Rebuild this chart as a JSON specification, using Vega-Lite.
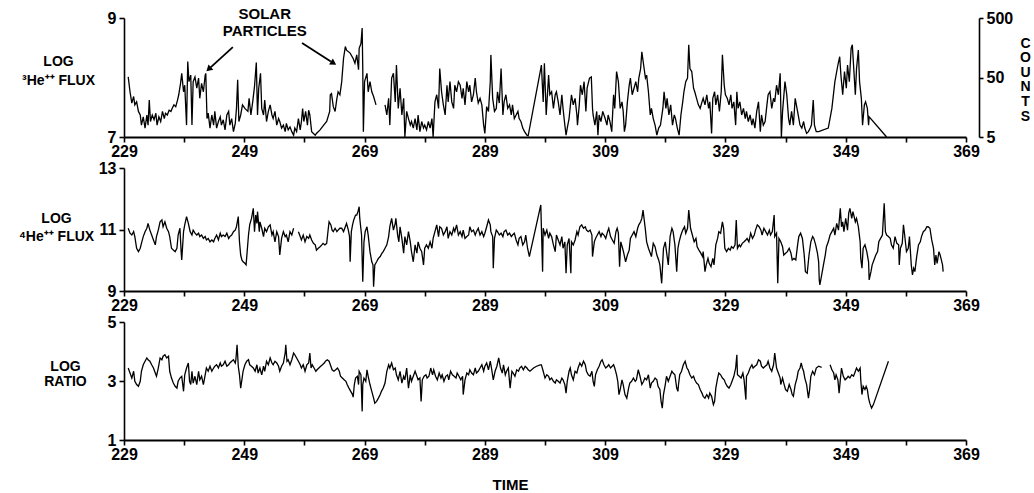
{
"$schema":"https://vega.github.io/schema/vega-lite/v6.json",
"background":"white",
"padding":{"left":18,"top":6,"right":5,"bottom":5},
"bounds":"flush",
"spacing":31,
"config":{"view":{"stroke":null},"font":"Liberation Sans",
"axis":{"domainColor":"black","tickColor":"black","labelColor":"black","titleColor":"black","labelFont":"Liberation Sans","titleFont":"Liberation Sans","labelFontWeight":"bold","titleFontWeight":"bold","labelFontSize":16,"titleFontSize":14,"grid":false,"domainWidth":1.6,"tickWidth":1.6,"labelBound":false,"labelFlush":false,"labelOverlap":false},
"axisX":{"domainWidth":2.2}},
"datasets":{
"he3":[
{"t":229.7,"v":8.01,"s":1},{"t":230.0,"v":7.76,"s":1},{"t":230.3,"v":7.57,"s":1},{"t":230.6,"v":7.68,"s":1},{"t":230.8,"v":7.54,"s":1},{"t":231.1,"v":7.59,"s":1},{"t":231.4,"v":7.43,"s":1},{"t":231.7,"v":7.37,"s":1},{"t":231.9,"v":7.20,"s":1},{"t":232.2,"v":7.34,"s":1},{"t":232.5,"v":7.15,"s":1},{"t":232.8,"v":7.37,"s":1},{"t":233.0,"v":7.20,"s":1},{"t":233.2,"v":7.62,"s":1},{"t":233.4,"v":7.26,"s":1},{"t":233.7,"v":7.37,"s":1},{"t":234.0,"v":7.29,"s":1},{"t":234.3,"v":7.40,"s":1},{"t":234.5,"v":7.20,"s":1},{"t":234.8,"v":7.34,"s":1},{"t":235.1,"v":7.26,"s":1},{"t":235.4,"v":7.43,"s":1},{"t":235.7,"v":7.31,"s":1},{"t":235.9,"v":7.40,"s":1},{"t":236.2,"v":7.37,"s":1},{"t":236.5,"v":7.45,"s":1},{"t":236.8,"v":7.43,"s":1},{"t":237.0,"v":7.48,"s":1},{"t":237.3,"v":7.54,"s":1},{"t":237.6,"v":7.51,"s":1},{"t":237.9,"v":7.62,"s":1},{"t":238.1,"v":7.71,"s":1},{"t":238.4,"v":7.90,"s":1},{"t":238.6,"v":8.07,"s":1},{"t":238.9,"v":7.76,"s":1},{"t":239.1,"v":7.87,"s":1},{"t":239.4,"v":7.20,"s":1},{"t":239.6,"v":8.27,"s":1},{"t":239.8,"v":7.93,"s":1},{"t":240.1,"v":8.04,"s":1},{"t":240.3,"v":7.20,"s":1},{"t":240.5,"v":7.93,"s":1},{"t":240.8,"v":8.01,"s":1},{"t":241.1,"v":7.82,"s":1},{"t":241.4,"v":7.99,"s":1},{"t":241.6,"v":7.65,"s":1},{"t":241.9,"v":7.90,"s":1},{"t":242.2,"v":7.76,"s":1},{"t":242.5,"v":8.04,"s":1},{"t":242.6,"v":8.07,"s":1},{"t":242.8,"v":7.31,"s":1},{"t":243.0,"v":7.40,"s":1},{"t":243.3,"v":7.15,"s":1},{"t":243.6,"v":7.37,"s":1},{"t":243.9,"v":7.20,"s":1},{"t":244.1,"v":7.43,"s":1},{"t":244.4,"v":7.15,"s":1},{"t":244.7,"v":7.26,"s":1},{"t":245.0,"v":7.34,"s":1},{"t":245.2,"v":7.20,"s":1},{"t":245.5,"v":7.29,"s":1},{"t":245.8,"v":7.12,"s":1},{"t":246.1,"v":7.37,"s":1},{"t":246.4,"v":7.43,"s":1},{"t":246.6,"v":7.20,"s":1},{"t":246.9,"v":7.31,"s":1},{"t":247.2,"v":7.09,"s":1},{"t":247.5,"v":7.23,"s":1},{"t":247.7,"v":7.48,"s":1},{"t":247.9,"v":7.96,"s":1},{"t":248.1,"v":7.26,"s":1},{"t":248.4,"v":7.37,"s":1},{"t":248.7,"v":7.54,"s":1},{"t":249.1,"v":7.48,"s":1},{"t":249.6,"v":7.43,"s":1},{"t":249.8,"v":7.65,"s":1},{"t":250.1,"v":7.37,"s":1},{"t":250.4,"v":7.59,"s":1},{"t":250.7,"v":7.85,"s":1},{"t":251.0,"v":8.25,"s":1},{"t":251.2,"v":7.37,"s":1},{"t":251.4,"v":7.82,"s":1},{"t":251.7,"v":8.07,"s":1},{"t":251.9,"v":7.48,"s":1},{"t":252.2,"v":7.37,"s":1},{"t":252.4,"v":7.62,"s":1},{"t":252.7,"v":7.26,"s":1},{"t":253.0,"v":7.43,"s":1},{"t":253.3,"v":7.54,"s":1},{"t":253.6,"v":7.37,"s":1},{"t":253.8,"v":7.31,"s":1},{"t":254.1,"v":7.43,"s":1},{"t":254.4,"v":7.20,"s":1},{"t":254.7,"v":7.31,"s":1},{"t":254.9,"v":7.26,"s":1},{"t":255.2,"v":7.15,"s":1},{"t":255.5,"v":7.20,"s":1},{"t":255.8,"v":7.09,"s":1},{"t":256.0,"v":7.23,"s":1},{"t":256.3,"v":7.12,"s":1},{"t":256.6,"v":7.17,"s":1},{"t":256.9,"v":7.09,"s":1},{"t":257.2,"v":7.03,"s":1},{"t":257.4,"v":7.15,"s":1},{"t":257.7,"v":7.09,"s":1},{"t":258.0,"v":7.31,"s":1},{"t":258.3,"v":7.12,"s":1},{"t":258.5,"v":7.26,"s":1},{"t":258.7,"v":7.48,"s":1},{"t":258.9,"v":7.26,"s":1},{"t":259.2,"v":7.43,"s":1},{"t":259.5,"v":7.20,"s":1},{"t":259.7,"v":7.45,"s":1},{"t":259.9,"v":7.37,"s":1},{"t":260.2,"v":7.09,"s":1},{"t":260.5,"v":7.06,"s":1},{"t":260.8,"v":7.03,"s":1},{"t":261.0,"v":7.06,"s":1},{"t":261.6,"v":7.12,"s":1},{"t":262.2,"v":7.20,"s":1},{"t":262.7,"v":7.26,"s":1},{"t":263.2,"v":7.43,"s":1},{"t":263.3,"v":7.71,"s":1},{"t":263.5,"v":7.73,"s":1},{"t":263.8,"v":7.51,"s":1},{"t":264.1,"v":7.43,"s":1},{"t":264.4,"v":7.65,"s":1},{"t":264.6,"v":7.76,"s":1},{"t":264.9,"v":7.71,"s":1},{"t":265.2,"v":7.93,"s":1},{"t":265.5,"v":8.32,"s":1},{"t":265.8,"v":8.52,"s":1},{"t":266.0,"v":8.46,"s":1},{"t":266.6,"v":8.41,"s":1},{"t":267.1,"v":8.32,"s":1},{"t":267.4,"v":8.24,"s":1},{"t":267.7,"v":8.38,"s":1},{"t":268.0,"v":8.13,"s":1},{"t":268.1,"v":8.49,"s":1},{"t":268.4,"v":8.57,"s":1},{"t":268.6,"v":8.83,"s":1},{"t":268.7,"v":8.15,"s":1},{"t":268.8,"v":7.09,"s":1},{"t":269.0,"v":7.93,"s":1},{"t":269.4,"v":8.07,"s":1},{"t":269.6,"v":7.76,"s":1},{"t":269.9,"v":7.93,"s":1},{"t":270.2,"v":7.76,"s":1},{"t":270.5,"v":7.68,"s":1},{"t":270.9,"v":7.54,"s":1},
{"t":272.4,"v":7.54,"s":2},{"t":272.7,"v":7.37,"s":2},{"t":273.0,"v":7.65,"s":2},{"t":273.2,"v":7.20,"s":2},{"t":273.5,"v":7.99,"s":2},{"t":273.8,"v":8.07,"s":2},{"t":274.1,"v":7.59,"s":2},{"t":274.3,"v":8.21,"s":2},{"t":274.6,"v":7.48,"s":2},{"t":274.9,"v":7.82,"s":2},{"t":275.2,"v":7.37,"s":2},{"t":275.5,"v":7.65,"s":2},{"t":275.7,"v":7.00,"s":2},{"t":276.0,"v":7.43,"s":2},{"t":276.3,"v":7.31,"s":2},{"t":276.6,"v":7.20,"s":2},{"t":276.8,"v":7.26,"s":2},{"t":277.1,"v":7.15,"s":2},{"t":277.4,"v":7.31,"s":2},{"t":277.7,"v":7.12,"s":2},{"t":277.9,"v":7.37,"s":2},{"t":278.2,"v":7.09,"s":2},{"t":278.5,"v":7.26,"s":2},{"t":278.8,"v":7.15,"s":2},{"t":279.0,"v":7.20,"s":2},{"t":279.3,"v":7.12,"s":2},{"t":279.6,"v":7.26,"s":2},{"t":279.9,"v":7.15,"s":2},{"t":280.2,"v":7.31,"s":2},{"t":280.4,"v":7.00,"s":2},{"t":280.7,"v":7.59,"s":2},{"t":281.0,"v":7.71,"s":2},{"t":281.3,"v":7.48,"s":2},{"t":281.5,"v":8.15,"s":2},{"t":281.8,"v":7.76,"s":2},{"t":282.1,"v":7.54,"s":2},{"t":282.4,"v":7.37,"s":2},{"t":282.7,"v":7.87,"s":2},{"t":282.9,"v":7.59,"s":2},{"t":283.2,"v":7.93,"s":2},{"t":283.5,"v":7.59,"s":2},{"t":283.8,"v":7.48,"s":2},{"t":284.0,"v":7.87,"s":2},{"t":284.3,"v":7.76,"s":2},{"t":284.6,"v":7.93,"s":2},{"t":284.9,"v":7.87,"s":2},{"t":285.2,"v":7.65,"s":2},{"t":285.4,"v":7.82,"s":2},{"t":285.7,"v":7.54,"s":2},{"t":286.0,"v":7.93,"s":2},{"t":286.3,"v":7.76,"s":2},{"t":286.5,"v":7.87,"s":2},{"t":286.8,"v":7.59,"s":2},{"t":287.1,"v":7.71,"s":2},{"t":287.4,"v":7.99,"s":2},{"t":287.6,"v":7.76,"s":2},{"t":287.9,"v":7.57,"s":2},{"t":288.2,"v":7.65,"s":2},{"t":288.5,"v":7.54,"s":2},{"t":288.8,"v":7.20,"s":2},{"t":289.0,"v":7.06,"s":2},{"t":289.3,"v":7.51,"s":2},{"t":289.6,"v":7.43,"s":2},{"t":289.9,"v":7.93,"s":2},{"t":290.0,"v":8.38,"s":2},{"t":290.3,"v":7.65,"s":2},{"t":290.6,"v":7.43,"s":2},{"t":290.9,"v":7.48,"s":2},{"t":291.1,"v":7.76,"s":2},{"t":291.4,"v":7.57,"s":2},{"t":291.7,"v":8.15,"s":2},{"t":292.0,"v":7.37,"s":2},{"t":292.2,"v":7.59,"s":2},{"t":292.5,"v":7.71,"s":2},{"t":292.8,"v":7.48,"s":2},{"t":293.1,"v":7.54,"s":2},{"t":293.4,"v":7.37,"s":2},{"t":293.6,"v":7.54,"s":2},{"t":293.9,"v":7.31,"s":2},{"t":294.2,"v":7.37,"s":2},{"t":294.5,"v":7.43,"s":2},{"t":294.7,"v":7.31,"s":2},{"t":295.0,"v":7.26,"s":2},{"t":295.3,"v":7.15,"s":2},{"t":295.6,"v":7.09,"s":2},{"t":296.0,"v":7.03,"s":2},{"t":296.2,"v":7.02,"s":2},{"t":298.3,"v":8.15,"s":2},{"t":298.4,"v":8.21,"s":2},{"t":298.7,"v":7.59,"s":2},{"t":298.9,"v":8.24,"s":2},{"t":299.2,"v":7.37,"s":2},{"t":299.6,"v":8.04,"s":2},{"t":299.8,"v":7.71,"s":2},{"t":300.1,"v":7.76,"s":2},{"t":300.4,"v":7.48,"s":2},{"t":300.7,"v":7.71,"s":2},{"t":300.9,"v":7.76,"s":2},{"t":301.2,"v":7.59,"s":2},{"t":301.5,"v":7.37,"s":2},{"t":301.8,"v":7.71,"s":2},{"t":302.0,"v":7.48,"s":2},{"t":302.3,"v":7.20,"s":2},{"t":302.5,"v":7.03,"s":2},{"t":302.7,"v":7.15,"s":2},{"t":303.0,"v":7.31,"s":2},{"t":303.4,"v":7.71,"s":2},{"t":303.7,"v":7.54,"s":2},{"t":304.0,"v":7.65,"s":2},{"t":304.3,"v":7.37,"s":2},{"t":304.4,"v":7.20,"s":2},{"t":304.7,"v":7.54,"s":2},{"t":304.9,"v":7.87,"s":2},{"t":305.2,"v":7.71,"s":2},{"t":305.5,"v":7.93,"s":2},{"t":305.8,"v":7.43,"s":2},{"t":306.0,"v":7.82,"s":2},{"t":306.4,"v":7.99,"s":2},{"t":306.7,"v":8.01,"s":2},{"t":306.9,"v":7.48,"s":2},{"t":307.0,"v":7.37,"s":2},{"t":307.3,"v":7.20,"s":2},{"t":307.6,"v":7.43,"s":2},{"t":307.8,"v":7.03,"s":2},{"t":308.0,"v":7.37,"s":2},{"t":308.3,"v":7.26,"s":2},{"t":308.6,"v":7.43,"s":2},{"t":309.0,"v":7.31,"s":2},{"t":309.3,"v":7.20,"s":2},{"t":309.5,"v":7.37,"s":2},{"t":309.8,"v":7.26,"s":2},{"t":310.1,"v":7.09,"s":2},{"t":310.4,"v":7.71,"s":2},{"t":310.6,"v":7.48,"s":2},{"t":310.9,"v":8.10,"s":2},{"t":311.2,"v":7.93,"s":2},{"t":311.5,"v":7.48,"s":2},{"t":311.8,"v":7.59,"s":2},{"t":312.0,"v":7.43,"s":2},{"t":312.2,"v":7.09,"s":2},{"t":312.4,"v":7.20,"s":2},{"t":312.7,"v":7.59,"s":2},{"t":313.0,"v":7.87,"s":2},{"t":313.2,"v":7.99,"s":2},{"t":313.5,"v":7.71,"s":2},{"t":313.8,"v":7.82,"s":2},{"t":314.1,"v":7.93,"s":2},{"t":314.4,"v":7.76,"s":2},{"t":314.6,"v":7.99,"s":2},{"t":314.9,"v":8.15,"s":2},{"t":315.1,"v":8.43,"s":2},{"t":315.4,"v":8.21,"s":2},{"t":315.7,"v":7.99,"s":2},{"t":315.9,"v":8.04,"s":2},{"t":316.2,"v":7.76,"s":2},{"t":316.5,"v":7.37,"s":2},{"t":316.7,"v":7.48,"s":2},{"t":317.0,"v":7.31,"s":2},{"t":317.3,"v":7.20,"s":2},{"t":317.6,"v":7.03,"s":2},{"t":317.9,"v":7.15,"s":2},{"t":318.2,"v":7.20,"s":2},{"t":318.6,"v":7.48,"s":2},{"t":318.8,"v":7.76,"s":2},{"t":319.1,"v":7.48,"s":2},{"t":319.3,"v":7.65,"s":2},{"t":319.6,"v":7.37,"s":2},{"t":319.9,"v":7.54,"s":2},{"t":320.2,"v":7.20,"s":2},{"t":320.5,"v":7.37,"s":2},{"t":320.7,"v":7.31,"s":2},{"t":321.0,"v":7.15,"s":2},{"t":321.3,"v":7.03,"s":2},{"t":321.6,"v":7.37,"s":2},{"t":321.9,"v":7.59,"s":2},{"t":322.1,"v":7.76,"s":2},{"t":322.4,"v":7.93,"s":2},{"t":322.7,"v":7.99,"s":2},{"t":322.9,"v":8.55,"s":2},{"t":323.1,"v":8.15,"s":2},{"t":323.4,"v":8.10,"s":2},{"t":323.7,"v":7.82,"s":2},{"t":323.9,"v":7.76,"s":2},{"t":324.2,"v":7.65,"s":2},{"t":324.5,"v":7.54,"s":2},{"t":324.8,"v":7.48,"s":2},{"t":325.1,"v":7.59,"s":2},{"t":325.3,"v":7.65,"s":2},{"t":325.6,"v":7.54,"s":2},{"t":325.9,"v":7.71,"s":2},{"t":326.2,"v":7.48,"s":2},{"t":326.4,"v":7.59,"s":2},{"t":326.7,"v":7.06,"s":2},{"t":326.9,"v":7.65,"s":2},{"t":327.2,"v":7.76,"s":2},{"t":327.4,"v":7.54,"s":2},{"t":327.7,"v":7.71,"s":2},{"t":328.0,"v":7.43,"s":2},{"t":328.3,"v":7.76,"s":2},{"t":328.5,"v":8.38,"s":2},{"t":328.8,"v":7.87,"s":2},{"t":329.0,"v":7.71,"s":2},{"t":329.3,"v":7.65,"s":2},{"t":329.6,"v":7.54,"s":2},{"t":329.9,"v":7.71,"s":2},{"t":330.1,"v":7.48,"s":2},{"t":330.4,"v":7.59,"s":2},{"t":330.7,"v":7.20,"s":2},{"t":330.9,"v":7.76,"s":2},{"t":331.1,"v":7.48,"s":2},{"t":331.4,"v":7.59,"s":2},{"t":331.7,"v":7.37,"s":2},{"t":332.0,"v":7.48,"s":2},{"t":332.3,"v":7.31,"s":2},{"t":332.5,"v":7.43,"s":2},{"t":332.8,"v":7.26,"s":2},{"t":333.1,"v":7.37,"s":2},{"t":333.4,"v":7.20,"s":2},{"t":333.6,"v":7.31,"s":2},{"t":333.9,"v":7.15,"s":2},{"t":334.2,"v":7.43,"s":2},{"t":334.5,"v":7.59,"s":2},{"t":334.8,"v":7.09,"s":2},{"t":335.0,"v":7.37,"s":2},{"t":335.3,"v":7.20,"s":2},{"t":335.6,"v":7.26,"s":2},{"t":335.9,"v":7.54,"s":2},{"t":336.1,"v":7.71,"s":2},{"t":336.4,"v":7.76,"s":2},{"t":336.7,"v":7.48,"s":2},{"t":337.0,"v":7.65,"s":2},{"t":337.2,"v":7.59,"s":2},{"t":337.5,"v":7.87,"s":2},{"t":337.8,"v":7.71,"s":2},{"t":338.1,"v":8.07,"s":2},{"t":338.3,"v":7.00,"s":2},{"t":338.5,"v":7.43,"s":2},{"t":338.9,"v":7.93,"s":2},{"t":339.2,"v":7.71,"s":2},{"t":339.5,"v":7.31,"s":2},{"t":339.7,"v":7.20,"s":2},{"t":340.0,"v":7.43,"s":2},{"t":340.3,"v":7.20,"s":2},{"t":340.6,"v":7.65,"s":2},{"t":340.9,"v":7.48,"s":2},{"t":341.1,"v":7.37,"s":2},{"t":341.4,"v":7.20,"s":2},{"t":341.7,"v":7.15,"s":2},{"t":342.0,"v":7.26,"s":2},{"t":342.2,"v":7.15,"s":2},{"t":342.5,"v":7.06,"s":2},{"t":342.8,"v":7.09,"s":2},{"t":343.1,"v":7.15,"s":2},{"t":343.3,"v":7.20,"s":2},{"t":343.6,"v":7.62,"s":2},{"t":343.8,"v":7.20,"s":2},{"t":344.1,"v":7.09,"s":2},{"t":344.5,"v":7.09,"s":2},{"t":346.1,"v":7.15,"s":2},{"t":346.7,"v":7.48,"s":2},{"t":347.2,"v":7.93,"s":2},{"t":347.7,"v":8.21,"s":2},{"t":348.0,"v":8.35,"s":2},{"t":348.2,"v":8.04,"s":2},{"t":348.5,"v":7.71,"s":2},{"t":348.8,"v":8.10,"s":2},{"t":349.1,"v":7.82,"s":2},{"t":349.3,"v":8.21,"s":2},{"t":349.6,"v":7.93,"s":2},{"t":349.9,"v":8.49,"s":2},{"t":350.1,"v":8.55,"s":2},{"t":350.3,"v":8.21,"s":2},{"t":350.6,"v":7.71,"s":2},{"t":350.8,"v":8.15,"s":2},{"t":351.1,"v":8.46,"s":2},{"t":351.3,"v":7.93,"s":2},{"t":351.6,"v":7.65,"s":2},{"t":351.8,"v":7.20,"s":2},{"t":352.1,"v":7.54,"s":2},{"t":352.3,"v":7.59,"s":2},{"t":352.6,"v":7.48,"s":2},{"t":352.8,"v":7.20,"s":2},{"t":352.9,"v":7.34,"s":2},{"t":355.8,"v":7.00,"s":2}
],
"he4":[
{"t":229.7,"v":11.04,"s":1},{"t":230.0,"v":10.88,"s":1},{"t":230.3,"v":10.82,"s":1},{"t":230.6,"v":10.93,"s":1},{"t":230.8,"v":10.77,"s":1},{"t":231.1,"v":10.39,"s":1},{"t":231.4,"v":10.28,"s":1},{"t":231.7,"v":10.39,"s":1},{"t":231.9,"v":10.55,"s":1},{"t":232.2,"v":10.77,"s":1},{"t":232.5,"v":10.93,"s":1},{"t":232.8,"v":11.04,"s":1},{"t":233.0,"v":11.20,"s":1},{"t":233.3,"v":10.98,"s":1},{"t":233.6,"v":10.82,"s":1},{"t":233.9,"v":10.66,"s":1},{"t":234.2,"v":10.50,"s":1},{"t":234.4,"v":10.77,"s":1},{"t":234.7,"v":10.98,"s":1},{"t":235.0,"v":11.25,"s":1},{"t":235.3,"v":11.31,"s":1},{"t":235.5,"v":11.09,"s":1},{"t":235.8,"v":11.25,"s":1},{"t":236.1,"v":11.04,"s":1},{"t":236.4,"v":10.93,"s":1},{"t":236.6,"v":10.77,"s":1},{"t":236.9,"v":10.39,"s":1},{"t":237.2,"v":10.33,"s":1},{"t":237.5,"v":10.28,"s":1},{"t":237.8,"v":10.39,"s":1},{"t":238.0,"v":10.82,"s":1},{"t":238.3,"v":11.04,"s":1},{"t":238.5,"v":10.28,"s":1},{"t":238.6,"v":10.01,"s":1},{"t":238.9,"v":10.93,"s":1},{"t":239.1,"v":11.15,"s":1},{"t":239.4,"v":11.42,"s":1},{"t":239.7,"v":11.20,"s":1},{"t":240.0,"v":10.93,"s":1},{"t":240.3,"v":10.82,"s":1},{"t":240.5,"v":10.98,"s":1},{"t":240.8,"v":10.88,"s":1},{"t":241.1,"v":10.82,"s":1},{"t":241.4,"v":10.88,"s":1},{"t":241.6,"v":10.77,"s":1},{"t":241.9,"v":10.82,"s":1},{"t":242.2,"v":10.71,"s":1},{"t":242.5,"v":10.77,"s":1},{"t":242.7,"v":10.66,"s":1},{"t":243.0,"v":10.71,"s":1},{"t":243.3,"v":10.60,"s":1},{"t":243.6,"v":10.66,"s":1},{"t":243.9,"v":10.60,"s":1},{"t":244.1,"v":10.71,"s":1},{"t":244.4,"v":10.82,"s":1},{"t":244.7,"v":10.66,"s":1},{"t":245.0,"v":10.88,"s":1},{"t":245.2,"v":10.77,"s":1},{"t":245.5,"v":10.82,"s":1},{"t":245.8,"v":10.77,"s":1},{"t":246.1,"v":10.88,"s":1},{"t":246.4,"v":10.71,"s":1},{"t":246.6,"v":10.77,"s":1},{"t":246.9,"v":10.82,"s":1},{"t":247.2,"v":10.93,"s":1},{"t":247.5,"v":10.98,"s":1},{"t":247.7,"v":11.09,"s":1},{"t":248.0,"v":11.42,"s":1},{"t":248.2,"v":10.60,"s":1},{"t":248.4,"v":10.17,"s":1},{"t":248.6,"v":10.01,"s":1},{"t":248.8,"v":9.95,"s":1},{"t":249.1,"v":9.90,"s":1},{"t":249.3,"v":9.85,"s":1},{"t":249.7,"v":10.82,"s":1},{"t":249.9,"v":11.15,"s":1},{"t":250.2,"v":11.36,"s":1},{"t":250.5,"v":11.69,"s":1},{"t":250.7,"v":10.93,"s":1},{"t":250.9,"v":11.47,"s":1},{"t":251.1,"v":11.20,"s":1},{"t":251.2,"v":11.58,"s":1},{"t":251.5,"v":10.93,"s":1},{"t":251.6,"v":11.25,"s":1},{"t":251.9,"v":11.04,"s":1},{"t":252.2,"v":10.77,"s":1},{"t":252.4,"v":11.04,"s":1},{"t":252.7,"v":10.93,"s":1},{"t":253.0,"v":11.09,"s":1},{"t":253.3,"v":11.15,"s":1},{"t":253.6,"v":10.82,"s":1},{"t":253.8,"v":10.93,"s":1},{"t":254.1,"v":10.60,"s":1},{"t":254.4,"v":10.93,"s":1},{"t":254.7,"v":10.77,"s":1},{"t":254.9,"v":10.17,"s":1},{"t":255.2,"v":10.71,"s":1},{"t":255.5,"v":10.93,"s":1},{"t":255.8,"v":10.77,"s":1},{"t":256.0,"v":10.82,"s":1},{"t":256.3,"v":10.60,"s":1},{"t":256.6,"v":10.93,"s":1},{"t":256.9,"v":10.82,"s":1},{"t":257.2,"v":11.04,"s":1},
{"t":258.0,"v":10.93,"s":2},{"t":258.3,"v":10.77,"s":2},{"t":258.5,"v":10.66,"s":2},{"t":258.8,"v":10.82,"s":2},{"t":259.1,"v":10.60,"s":2},{"t":259.4,"v":10.77,"s":2},{"t":259.7,"v":10.71,"s":2},{"t":259.9,"v":10.82,"s":2},{"t":260.2,"v":10.66,"s":2},{"t":260.5,"v":10.55,"s":2},{"t":260.8,"v":10.50,"s":2},{"t":261.0,"v":10.33,"s":2},{"t":261.3,"v":10.39,"s":2},{"t":261.6,"v":10.44,"s":2},{"t":261.9,"v":10.50,"s":2},{"t":262.1,"v":10.55,"s":2},{"t":262.4,"v":10.50,"s":2},{"t":262.7,"v":10.55,"s":2},{"t":263.0,"v":11.09,"s":2},{"t":263.1,"v":11.25,"s":2},{"t":263.4,"v":11.15,"s":2},{"t":263.6,"v":10.98,"s":2},{"t":263.8,"v":10.93,"s":2},{"t":264.1,"v":11.04,"s":2},{"t":264.4,"v":10.93,"s":2},{"t":264.6,"v":10.98,"s":2},{"t":264.9,"v":11.04,"s":2},{"t":265.2,"v":11.04,"s":2},{"t":265.5,"v":10.93,"s":2},{"t":265.8,"v":11.09,"s":2},{"t":266.0,"v":11.20,"s":2},{"t":266.3,"v":10.98,"s":2},{"t":266.5,"v":10.77,"s":2},{"t":266.6,"v":9.95,"s":2},{"t":266.8,"v":10.93,"s":2},{"t":267.0,"v":11.15,"s":2},{"t":267.2,"v":11.31,"s":2},{"t":267.5,"v":11.47,"s":2},{"t":267.7,"v":11.47,"s":2},{"t":267.9,"v":11.58,"s":2},{"t":268.1,"v":11.74,"s":2},{"t":268.2,"v":11.36,"s":2},{"t":268.5,"v":10.82,"s":2},{"t":268.6,"v":10.06,"s":2},{"t":268.7,"v":9.30,"s":2},{"t":268.9,"v":10.60,"s":2},{"t":269.1,"v":10.93,"s":2},{"t":269.4,"v":11.09,"s":2},{"t":269.6,"v":10.82,"s":2},{"t":269.9,"v":10.28,"s":2},{"t":270.2,"v":9.95,"s":2},{"t":270.4,"v":9.85,"s":2},{"t":270.5,"v":9.14,"s":2},{"t":270.7,"v":9.85,"s":2},{"t":271.0,"v":9.95,"s":2},{"t":271.3,"v":10.06,"s":2},{"t":271.6,"v":10.12,"s":2},{"t":271.9,"v":10.23,"s":2},{"t":272.1,"v":10.28,"s":2},{"t":272.4,"v":10.39,"s":2},{"t":272.7,"v":10.50,"s":2},{"t":273.0,"v":10.77,"s":2},{"t":273.2,"v":11.09,"s":2},{"t":273.5,"v":11.36,"s":2},{"t":273.8,"v":10.98,"s":2},{"t":274.1,"v":11.20,"s":2},{"t":274.2,"v":11.36,"s":2},{"t":274.5,"v":10.82,"s":2},{"t":274.7,"v":10.60,"s":2},{"t":274.9,"v":11.09,"s":2},{"t":275.2,"v":10.71,"s":2},{"t":275.5,"v":10.23,"s":2},{"t":275.7,"v":10.77,"s":2},{"t":276.0,"v":10.50,"s":2},{"t":276.3,"v":10.93,"s":2},{"t":276.6,"v":10.60,"s":2},{"t":276.8,"v":10.28,"s":2},{"t":277.1,"v":9.95,"s":2},{"t":277.4,"v":10.50,"s":2},{"t":277.7,"v":10.23,"s":2},{"t":277.9,"v":10.60,"s":2},{"t":278.2,"v":10.39,"s":2},{"t":278.5,"v":10.28,"s":2},{"t":278.8,"v":9.85,"s":2},{"t":279.0,"v":10.39,"s":2},{"t":279.3,"v":10.50,"s":2},{"t":279.6,"v":10.39,"s":2},{"t":279.9,"v":10.60,"s":2},{"t":280.2,"v":10.39,"s":2},{"t":280.4,"v":10.71,"s":2},{"t":280.7,"v":10.93,"s":2},{"t":281.0,"v":11.15,"s":2},{"t":281.3,"v":10.77,"s":2},{"t":281.5,"v":11.09,"s":2},{"t":281.8,"v":11.04,"s":2},{"t":282.1,"v":10.82,"s":2},{"t":282.4,"v":10.93,"s":2},{"t":282.7,"v":11.09,"s":2},{"t":282.9,"v":10.71,"s":2},{"t":283.2,"v":10.93,"s":2},{"t":283.5,"v":10.82,"s":2},{"t":283.8,"v":11.04,"s":2},{"t":284.0,"v":10.93,"s":2},{"t":284.3,"v":11.15,"s":2},{"t":284.6,"v":10.82,"s":2},{"t":284.9,"v":10.93,"s":2},{"t":285.2,"v":10.77,"s":2},{"t":285.4,"v":10.98,"s":2},{"t":285.7,"v":10.71,"s":2},{"t":286.0,"v":10.77,"s":2},{"t":286.3,"v":10.82,"s":2},{"t":286.5,"v":11.09,"s":2},{"t":286.8,"v":10.93,"s":2},{"t":287.1,"v":10.98,"s":2},{"t":287.4,"v":10.82,"s":2},{"t":287.6,"v":10.93,"s":2},{"t":287.9,"v":11.04,"s":2},{"t":288.2,"v":10.82,"s":2},{"t":288.5,"v":10.93,"s":2},{"t":288.8,"v":10.77,"s":2},{"t":289.0,"v":10.88,"s":2},{"t":289.3,"v":11.09,"s":2},{"t":289.6,"v":11.31,"s":2},{"t":289.9,"v":11.15,"s":2},{"t":290.0,"v":10.93,"s":2},{"t":290.3,"v":10.77,"s":2},{"t":290.4,"v":9.74,"s":2},{"t":290.6,"v":10.71,"s":2},{"t":290.9,"v":10.98,"s":2},{"t":291.1,"v":10.93,"s":2},{"t":291.4,"v":10.82,"s":2},{"t":291.7,"v":10.88,"s":2},{"t":292.0,"v":10.77,"s":2},{"t":292.2,"v":10.93,"s":2},{"t":292.5,"v":10.98,"s":2},{"t":292.8,"v":10.82,"s":2},{"t":293.1,"v":10.88,"s":2},{"t":293.4,"v":10.77,"s":2},{"t":293.6,"v":10.82,"s":2},{"t":293.9,"v":10.88,"s":2},{"t":294.2,"v":10.66,"s":2},{"t":294.5,"v":10.50,"s":2},{"t":294.7,"v":10.71,"s":2},{"t":295.0,"v":10.77,"s":2},{"t":295.3,"v":10.50,"s":2},{"t":295.6,"v":10.60,"s":2},{"t":295.8,"v":10.82,"s":2},{"t":296.1,"v":10.39,"s":2},{"t":296.4,"v":10.12,"s":2},{"t":298.3,"v":11.80,"s":2},{"t":298.6,"v":9.63,"s":2},{"t":298.7,"v":11.04,"s":2},{"t":299.0,"v":10.82,"s":2},{"t":299.3,"v":10.98,"s":2},{"t":299.6,"v":10.71,"s":2},{"t":299.8,"v":10.88,"s":2},{"t":300.1,"v":10.77,"s":2},{"t":300.4,"v":10.50,"s":2},{"t":300.7,"v":10.28,"s":2},{"t":300.9,"v":10.82,"s":2},{"t":301.2,"v":10.66,"s":2},{"t":301.5,"v":10.50,"s":2},{"t":301.8,"v":10.77,"s":2},{"t":302.0,"v":10.39,"s":2},{"t":302.3,"v":10.60,"s":2},{"t":302.5,"v":9.58,"s":2},{"t":302.7,"v":10.50,"s":2},{"t":303.0,"v":10.71,"s":2},{"t":303.3,"v":9.58,"s":2},{"t":303.4,"v":10.60,"s":2},{"t":303.7,"v":10.50,"s":2},{"t":304.0,"v":10.66,"s":2},{"t":304.3,"v":10.93,"s":2},{"t":304.5,"v":10.82,"s":2},{"t":304.8,"v":11.09,"s":2},{"t":305.1,"v":11.15,"s":2},{"t":305.4,"v":11.04,"s":2},{"t":305.7,"v":11.09,"s":2},{"t":305.9,"v":10.98,"s":2},{"t":306.2,"v":10.93,"s":2},{"t":306.5,"v":10.98,"s":2},{"t":306.8,"v":10.82,"s":2},{"t":306.9,"v":10.12,"s":2},{"t":307.2,"v":10.60,"s":2},{"t":307.4,"v":10.71,"s":2},{"t":307.7,"v":10.82,"s":2},{"t":308.0,"v":10.93,"s":2},{"t":308.3,"v":10.77,"s":2},{"t":308.5,"v":10.88,"s":2},{"t":308.8,"v":10.82,"s":2},{"t":309.1,"v":10.71,"s":2},{"t":309.4,"v":10.93,"s":2},{"t":309.6,"v":11.04,"s":2},{"t":309.9,"v":10.77,"s":2},{"t":310.2,"v":10.66,"s":2},{"t":310.5,"v":10.55,"s":2},{"t":310.8,"v":10.93,"s":2},{"t":311.0,"v":11.04,"s":2},{"t":311.2,"v":10.88,"s":2},{"t":311.4,"v":9.79,"s":2},{"t":311.6,"v":10.60,"s":2},{"t":311.9,"v":10.39,"s":2},{"t":312.1,"v":10.23,"s":2},{"t":312.4,"v":9.95,"s":2},{"t":312.7,"v":10.17,"s":2},{"t":313.0,"v":10.33,"s":2},{"t":313.2,"v":10.71,"s":2},{"t":313.5,"v":10.82,"s":2},{"t":313.8,"v":10.93,"s":2},{"t":314.1,"v":10.77,"s":2},{"t":314.4,"v":11.04,"s":2},{"t":314.6,"v":11.15,"s":2},{"t":314.9,"v":11.25,"s":2},{"t":315.1,"v":11.36,"s":2},{"t":315.3,"v":11.63,"s":2},{"t":315.5,"v":11.31,"s":2},{"t":315.7,"v":10.98,"s":2},{"t":315.9,"v":10.60,"s":2},{"t":316.2,"v":10.39,"s":2},{"t":316.5,"v":10.23,"s":2},{"t":316.7,"v":10.12,"s":2},{"t":317.0,"v":10.55,"s":2},{"t":317.3,"v":10.44,"s":2},{"t":317.6,"v":10.17,"s":2},{"t":317.9,"v":10.01,"s":2},{"t":318.1,"v":9.85,"s":2},{"t":318.4,"v":9.25,"s":2},{"t":318.7,"v":10.39,"s":2},{"t":319.0,"v":10.60,"s":2},{"t":319.2,"v":10.28,"s":2},{"t":319.5,"v":9.85,"s":2},{"t":319.8,"v":10.77,"s":2},{"t":320.1,"v":11.04,"s":2},{"t":320.3,"v":10.93,"s":2},{"t":320.6,"v":10.50,"s":2},{"t":320.9,"v":9.63,"s":2},{"t":321.1,"v":10.39,"s":2},{"t":321.3,"v":10.60,"s":2},{"t":321.6,"v":10.82,"s":2},{"t":321.9,"v":10.98,"s":2},{"t":322.2,"v":11.09,"s":2},{"t":322.4,"v":10.88,"s":2},{"t":322.7,"v":11.04,"s":2},{"t":322.9,"v":11.63,"s":2},{"t":323.2,"v":11.04,"s":2},{"t":323.5,"v":10.82,"s":2},{"t":323.8,"v":10.60,"s":2},{"t":324.1,"v":10.71,"s":2},{"t":324.3,"v":10.44,"s":2},{"t":324.6,"v":10.33,"s":2},{"t":324.9,"v":10.23,"s":2},{"t":325.2,"v":10.12,"s":2},{"t":325.3,"v":10.28,"s":2},{"t":325.6,"v":9.63,"s":2},{"t":325.8,"v":9.85,"s":2},{"t":326.1,"v":10.06,"s":2},{"t":326.3,"v":9.90,"s":2},{"t":326.6,"v":9.79,"s":2},{"t":326.9,"v":10.06,"s":2},{"t":327.1,"v":9.85,"s":2},{"t":327.4,"v":10.50,"s":2},{"t":327.7,"v":10.71,"s":2},{"t":327.9,"v":10.93,"s":2},{"t":328.2,"v":10.88,"s":2},{"t":328.5,"v":11.25,"s":2},{"t":328.7,"v":11.04,"s":2},{"t":328.9,"v":10.39,"s":2},{"t":329.2,"v":10.28,"s":2},{"t":329.5,"v":10.39,"s":2},{"t":329.8,"v":10.33,"s":2},{"t":330.0,"v":10.44,"s":2},{"t":330.3,"v":10.39,"s":2},{"t":330.6,"v":10.50,"s":2},{"t":330.8,"v":11.31,"s":2},{"t":331.0,"v":10.39,"s":2},{"t":331.3,"v":10.50,"s":2},{"t":331.5,"v":10.44,"s":2},{"t":331.8,"v":10.55,"s":2},{"t":332.1,"v":10.60,"s":2},{"t":332.4,"v":10.66,"s":2},{"t":332.6,"v":10.71,"s":2},{"t":332.9,"v":10.60,"s":2},{"t":333.2,"v":10.88,"s":2},{"t":333.5,"v":10.71,"s":2},{"t":333.8,"v":10.82,"s":2},{"t":334.0,"v":10.98,"s":2},{"t":334.3,"v":11.15,"s":2},{"t":334.6,"v":11.09,"s":2},{"t":334.9,"v":10.98,"s":2},{"t":335.1,"v":10.82,"s":2},{"t":335.4,"v":11.04,"s":2},{"t":335.7,"v":10.93,"s":2},{"t":336.0,"v":10.82,"s":2},{"t":336.3,"v":10.98,"s":2},{"t":336.5,"v":10.82,"s":2},{"t":336.8,"v":10.93,"s":2},{"t":337.1,"v":11.47,"s":2},{"t":337.2,"v":10.77,"s":2},{"t":337.5,"v":10.88,"s":2},{"t":337.7,"v":9.25,"s":2},{"t":337.9,"v":10.71,"s":2},{"t":338.2,"v":10.60,"s":2},{"t":338.5,"v":10.44,"s":2},{"t":338.7,"v":10.17,"s":2},{"t":339.0,"v":10.23,"s":2},{"t":339.3,"v":10.28,"s":2},{"t":339.6,"v":10.39,"s":2},{"t":339.9,"v":10.23,"s":2},{"t":340.1,"v":10.01,"s":2},{"t":340.4,"v":10.06,"s":2},{"t":340.7,"v":10.01,"s":2},{"t":341.0,"v":10.50,"s":2},{"t":341.2,"v":10.77,"s":2},{"t":341.5,"v":10.88,"s":2},{"t":341.8,"v":10.71,"s":2},{"t":342.1,"v":10.17,"s":2},{"t":342.3,"v":9.63,"s":2},{"t":342.6,"v":9.58,"s":2},{"t":342.9,"v":10.17,"s":2},{"t":343.2,"v":10.60,"s":2},{"t":343.5,"v":10.77,"s":2},{"t":343.7,"v":10.71,"s":2},{"t":344.0,"v":10.50,"s":2},{"t":344.3,"v":10.23,"s":2},{"t":344.5,"v":9.95,"s":2},{"t":344.6,"v":9.36,"s":2},{"t":344.7,"v":9.20,"s":2},{"t":345.0,"v":9.52,"s":2},{"t":345.3,"v":9.85,"s":2},{"t":345.6,"v":10.17,"s":2},{"t":345.8,"v":10.44,"s":2},{"t":346.1,"v":10.60,"s":2},{"t":346.4,"v":10.82,"s":2},{"t":346.7,"v":10.93,"s":2},{"t":347.0,"v":11.04,"s":2},{"t":347.2,"v":10.82,"s":2},{"t":347.5,"v":11.20,"s":2},{"t":347.8,"v":10.98,"s":2},{"t":348.1,"v":11.69,"s":2},{"t":348.3,"v":11.09,"s":2},{"t":348.5,"v":11.25,"s":2},{"t":348.7,"v":10.93,"s":2},{"t":349.0,"v":11.36,"s":2},{"t":349.3,"v":10.98,"s":2},{"t":349.5,"v":11.53,"s":2},{"t":349.7,"v":11.69,"s":2},{"t":350.0,"v":11.36,"s":2},{"t":350.2,"v":11.58,"s":2},{"t":350.4,"v":11.42,"s":2},{"t":350.6,"v":11.25,"s":2},{"t":350.8,"v":11.36,"s":2},{"t":351.1,"v":11.09,"s":2},{"t":351.4,"v":10.60,"s":2},{"t":351.5,"v":10.06,"s":2},{"t":351.7,"v":9.74,"s":2},{"t":351.9,"v":10.39,"s":2},{"t":352.2,"v":10.50,"s":2},{"t":352.5,"v":10.28,"s":2},{"t":352.8,"v":9.95,"s":2},{"t":352.9,"v":9.36,"s":2},{"t":353.2,"v":9.63,"s":2},{"t":353.4,"v":9.85,"s":2},{"t":353.7,"v":10.01,"s":2},{"t":354.0,"v":10.17,"s":2},{"t":354.3,"v":10.28,"s":2},{"t":354.5,"v":10.60,"s":2},{"t":354.8,"v":10.71,"s":2},{"t":355.1,"v":10.82,"s":2},{"t":355.4,"v":11.85,"s":2},{"t":355.6,"v":10.93,"s":2},{"t":355.8,"v":10.82,"s":2},{"t":356.1,"v":10.77,"s":2},{"t":356.4,"v":10.71,"s":2},{"t":356.6,"v":10.50,"s":2},{"t":356.9,"v":10.39,"s":2},{"t":357.2,"v":10.77,"s":2},{"t":357.5,"v":10.55,"s":2},{"t":357.8,"v":10.50,"s":2},{"t":357.9,"v":9.85,"s":2},{"t":358.1,"v":10.39,"s":2},{"t":358.4,"v":10.55,"s":2},{"t":358.6,"v":11.15,"s":2},{"t":358.8,"v":10.82,"s":2},{"t":359.1,"v":10.28,"s":2},{"t":359.4,"v":10.39,"s":2},{"t":359.6,"v":10.77,"s":2},{"t":359.9,"v":9.85,"s":2},{"t":360.1,"v":9.52,"s":2},{"t":360.3,"v":9.74,"s":2},{"t":360.5,"v":9.63,"s":2},{"t":360.8,"v":10.12,"s":2},{"t":361.1,"v":10.50,"s":2},{"t":361.4,"v":10.60,"s":2},{"t":361.6,"v":10.77,"s":2},{"t":361.9,"v":10.93,"s":2},{"t":362.2,"v":10.98,"s":2},{"t":362.5,"v":11.09,"s":2},{"t":362.7,"v":11.09,"s":2},{"t":363.0,"v":11.04,"s":2},{"t":363.3,"v":10.66,"s":2},{"t":363.6,"v":10.39,"s":2},{"t":363.8,"v":9.85,"s":2},{"t":364.0,"v":10.17,"s":2},{"t":364.2,"v":9.90,"s":2},{"t":364.5,"v":10.28,"s":2},{"t":364.7,"v":10.17,"s":2},{"t":364.9,"v":10.01,"s":2},{"t":365.1,"v":9.85,"s":2},{"t":365.2,"v":9.63,"s":2}
],
"ratio":[
{"t":229.7,"v":3.44,"s":1},{"t":230.0,"v":3.27,"s":1},{"t":230.3,"v":3.10,"s":1},{"t":230.6,"v":3.33,"s":1},{"t":230.8,"v":2.99,"s":1},{"t":231.1,"v":2.88,"s":1},{"t":231.4,"v":2.82,"s":1},{"t":231.7,"v":2.99,"s":1},{"t":231.9,"v":3.33,"s":1},{"t":232.2,"v":3.55,"s":1},{"t":232.5,"v":3.67,"s":1},{"t":232.8,"v":3.78,"s":1},{"t":233.0,"v":3.72,"s":1},{"t":233.3,"v":3.67,"s":1},{"t":233.6,"v":3.55,"s":1},{"t":233.9,"v":3.44,"s":1},{"t":234.2,"v":3.27,"s":1},{"t":234.4,"v":3.16,"s":1},{"t":234.7,"v":3.44,"s":1},{"t":235.0,"v":3.78,"s":1},{"t":235.3,"v":3.72,"s":1},{"t":235.5,"v":3.84,"s":1},{"t":235.8,"v":3.89,"s":1},{"t":236.1,"v":3.78,"s":1},{"t":236.4,"v":3.84,"s":1},{"t":236.6,"v":3.33,"s":1},{"t":236.9,"v":3.10,"s":1},{"t":237.2,"v":2.93,"s":1},{"t":237.5,"v":2.82,"s":1},{"t":237.8,"v":2.76,"s":1},{"t":238.0,"v":2.99,"s":1},{"t":238.3,"v":3.10,"s":1},{"t":238.6,"v":3.16,"s":1},{"t":238.9,"v":2.65,"s":1},{"t":239.1,"v":3.21,"s":1},{"t":239.4,"v":3.44,"s":1},{"t":239.7,"v":3.61,"s":1},{"t":239.9,"v":2.99,"s":1},{"t":240.1,"v":2.88,"s":1},{"t":240.3,"v":3.33,"s":1},{"t":240.5,"v":2.93,"s":1},{"t":240.8,"v":3.16,"s":1},{"t":241.1,"v":2.88,"s":1},{"t":241.4,"v":3.33,"s":1},{"t":241.6,"v":3.04,"s":1},{"t":241.9,"v":3.16,"s":1},{"t":242.2,"v":2.88,"s":1},{"t":242.5,"v":3.21,"s":1},{"t":242.7,"v":3.44,"s":1},{"t":243.0,"v":3.33,"s":1},{"t":243.3,"v":3.50,"s":1},{"t":243.6,"v":3.33,"s":1},{"t":243.9,"v":3.44,"s":1},{"t":244.1,"v":3.50,"s":1},{"t":244.4,"v":3.55,"s":1},{"t":244.7,"v":3.44,"s":1},{"t":245.0,"v":3.61,"s":1},{"t":245.2,"v":3.50,"s":1},{"t":245.5,"v":3.55,"s":1},{"t":245.8,"v":3.67,"s":1},{"t":246.1,"v":3.50,"s":1},{"t":246.4,"v":3.55,"s":1},{"t":246.6,"v":3.61,"s":1},{"t":246.9,"v":3.67,"s":1},{"t":247.2,"v":3.72,"s":1},{"t":247.5,"v":3.61,"s":1},{"t":247.6,"v":3.72,"s":1},{"t":247.8,"v":4.23,"s":1},{"t":248.0,"v":3.50,"s":1},{"t":248.2,"v":3.21,"s":1},{"t":248.4,"v":2.76,"s":1},{"t":248.6,"v":3.04,"s":1},{"t":248.8,"v":3.33,"s":1},{"t":249.1,"v":3.55,"s":1},{"t":249.4,"v":3.67,"s":1},{"t":249.7,"v":3.72,"s":1},{"t":249.9,"v":3.55,"s":1},{"t":250.2,"v":3.50,"s":1},{"t":250.5,"v":3.44,"s":1},{"t":250.8,"v":3.33,"s":1},{"t":251.1,"v":3.55,"s":1},{"t":251.3,"v":3.27,"s":1},{"t":251.6,"v":3.44,"s":1},{"t":251.9,"v":3.21,"s":1},{"t":252.2,"v":3.50,"s":1},{"t":252.4,"v":3.33,"s":1},{"t":252.7,"v":3.67,"s":1},{"t":253.0,"v":3.55,"s":1},{"t":253.3,"v":3.78,"s":1},{"t":253.6,"v":3.61,"s":1},{"t":253.8,"v":3.55,"s":1},{"t":254.1,"v":3.67,"s":1},{"t":254.4,"v":3.61,"s":1},{"t":254.7,"v":3.50,"s":1},{"t":254.9,"v":3.33,"s":1},{"t":255.2,"v":3.50,"s":1},{"t":255.5,"v":3.61,"s":1},{"t":255.8,"v":3.95,"s":1},{"t":255.9,"v":4.23,"s":1},{"t":256.1,"v":3.67,"s":1},{"t":256.3,"v":3.72,"s":1},{"t":256.6,"v":3.55,"s":1},{"t":256.9,"v":3.72,"s":1},{"t":257.2,"v":3.95,"s":1},{"t":257.4,"v":3.89,"s":1},{"t":257.7,"v":3.78,"s":1},{"t":258.0,"v":3.67,"s":1},{"t":258.3,"v":3.55,"s":1},{"t":258.5,"v":3.44,"s":1},{"t":258.8,"v":3.55,"s":1},{"t":259.1,"v":3.33,"s":1},{"t":259.4,"v":3.55,"s":1},{"t":259.7,"v":3.61,"s":1},{"t":259.9,"v":3.95,"s":1},{"t":260.1,"v":3.44,"s":1},{"t":260.3,"v":3.55,"s":1},{"t":260.6,"v":3.44,"s":1},{"t":260.9,"v":3.33,"s":1},{"t":261.1,"v":3.38,"s":1},{"t":261.4,"v":3.44,"s":1},{"t":261.7,"v":3.50,"s":1},{"t":262.0,"v":3.55,"s":1},{"t":262.3,"v":3.61,"s":1},{"t":262.5,"v":3.67,"s":1},{"t":262.8,"v":3.72,"s":1},{"t":263.1,"v":3.67,"s":1},{"t":263.4,"v":3.50,"s":1},{"t":263.6,"v":3.38,"s":1},{"t":263.9,"v":3.33,"s":1},{"t":264.2,"v":3.38,"s":1},{"t":264.5,"v":3.44,"s":1},{"t":264.8,"v":3.33,"s":1},{"t":265.0,"v":3.16,"s":1},{"t":265.3,"v":3.10,"s":1},{"t":265.6,"v":3.04,"s":1},{"t":265.9,"v":2.99,"s":1},{"t":266.1,"v":2.88,"s":1},{"t":266.4,"v":2.76,"s":1},{"t":266.7,"v":2.65,"s":1},{"t":267.0,"v":2.54,"s":1},{"t":267.1,"v":2.45,"s":1},{"t":267.3,"v":2.88,"s":1},{"t":267.5,"v":3.10,"s":1},{"t":267.8,"v":3.16,"s":1},{"t":268.0,"v":2.88,"s":1},{"t":268.1,"v":3.33,"s":1},{"t":268.4,"v":3.21,"s":1},{"t":268.6,"v":1.97,"s":1},{"t":268.7,"v":2.88,"s":1},{"t":268.9,"v":3.10,"s":1},{"t":269.2,"v":2.99,"s":1},{"t":269.4,"v":3.38,"s":1},{"t":269.6,"v":3.16,"s":1},{"t":269.9,"v":2.88,"s":1},{"t":270.2,"v":2.65,"s":1},{"t":270.5,"v":2.42,"s":1},{"t":270.7,"v":2.25,"s":1},{"t":271.0,"v":2.31,"s":1},{"t":271.3,"v":2.42,"s":1},{"t":271.6,"v":2.54,"s":1},{"t":271.8,"v":2.65,"s":1},{"t":272.1,"v":2.76,"s":1},{"t":272.4,"v":2.93,"s":1},{"t":272.7,"v":3.33,"s":1},{"t":273.0,"v":3.55,"s":1},{"t":273.2,"v":3.44,"s":1},{"t":273.5,"v":3.61,"s":1},{"t":273.8,"v":3.38,"s":1},{"t":274.1,"v":3.44,"s":1},{"t":274.3,"v":3.21,"s":1},{"t":274.6,"v":3.04,"s":1},{"t":274.9,"v":3.33,"s":1},{"t":275.2,"v":2.93,"s":1},{"t":275.5,"v":3.16,"s":1},{"t":275.7,"v":3.04,"s":1},{"t":276.0,"v":3.44,"s":1},{"t":276.3,"v":2.76,"s":1},{"t":276.6,"v":3.21,"s":1},{"t":276.8,"v":2.99,"s":1},{"t":277.1,"v":3.16,"s":1},{"t":277.4,"v":3.33,"s":1},{"t":277.7,"v":3.16,"s":1},{"t":277.9,"v":3.04,"s":1},{"t":278.2,"v":3.10,"s":1},{"t":278.4,"v":2.31,"s":1},{"t":278.6,"v":3.04,"s":1},{"t":278.9,"v":3.16,"s":1},{"t":279.2,"v":3.21,"s":1},{"t":279.4,"v":3.10,"s":1},{"t":279.7,"v":3.16,"s":1},{"t":280.0,"v":3.44,"s":1},{"t":280.3,"v":3.21,"s":1},{"t":280.5,"v":3.38,"s":1},{"t":280.8,"v":3.16,"s":1},{"t":281.1,"v":3.04,"s":1},{"t":281.4,"v":3.27,"s":1},{"t":281.7,"v":3.10,"s":1},{"t":281.9,"v":3.21,"s":1},{"t":282.2,"v":2.99,"s":1},{"t":282.5,"v":3.16,"s":1},{"t":282.8,"v":3.21,"s":1},{"t":283.0,"v":3.04,"s":1},{"t":283.3,"v":3.33,"s":1},{"t":283.6,"v":3.21,"s":1},{"t":283.9,"v":3.16,"s":1},{"t":284.2,"v":3.10,"s":1},{"t":284.4,"v":3.27,"s":1},{"t":284.7,"v":3.16,"s":1},{"t":285.0,"v":3.04,"s":1},{"t":285.3,"v":3.16,"s":1},{"t":285.4,"v":2.54,"s":1},{"t":285.7,"v":3.04,"s":1},{"t":286.0,"v":3.27,"s":1},{"t":286.3,"v":3.21,"s":1},{"t":286.5,"v":3.38,"s":1},{"t":286.8,"v":3.27,"s":1},{"t":287.1,"v":3.21,"s":1},{"t":287.4,"v":3.44,"s":1},{"t":287.6,"v":3.27,"s":1},{"t":287.9,"v":3.33,"s":1},{"t":288.2,"v":3.44,"s":1},{"t":288.5,"v":3.55,"s":1},{"t":288.8,"v":3.33,"s":1},{"t":289.0,"v":3.50,"s":1},{"t":289.3,"v":3.61,"s":1},{"t":289.6,"v":3.38,"s":1},{"t":289.9,"v":3.67,"s":1},{"t":290.1,"v":3.44,"s":1},{"t":290.4,"v":3.04,"s":1},{"t":290.7,"v":3.33,"s":1},{"t":291.0,"v":3.50,"s":1},{"t":291.3,"v":3.78,"s":1},{"t":291.4,"v":3.67,"s":1},{"t":291.6,"v":3.44,"s":1},{"t":291.9,"v":3.27,"s":1},{"t":292.1,"v":3.55,"s":1},{"t":292.4,"v":3.21,"s":1},{"t":292.6,"v":3.33,"s":1},{"t":292.9,"v":3.44,"s":1},{"t":293.2,"v":2.76,"s":1},{"t":293.5,"v":3.33,"s":1},{"t":293.7,"v":3.27,"s":1},{"t":294.0,"v":3.16,"s":1},{"t":294.3,"v":3.38,"s":1},{"t":294.6,"v":3.33,"s":1},{"t":294.8,"v":3.44,"s":1},{"t":295.1,"v":3.50,"s":1},{"t":295.4,"v":3.38,"s":1},{"t":295.7,"v":3.50,"s":1},{"t":296.0,"v":3.44,"s":1},{"t":296.2,"v":3.38,"s":1},{"t":296.5,"v":3.33,"s":1},{"t":297.1,"v":3.44,"s":1},{"t":297.6,"v":3.50,"s":1},{"t":298.2,"v":3.55,"s":1},{"t":298.4,"v":3.55,"s":1},{"t":298.7,"v":3.33,"s":1},{"t":299.0,"v":3.10,"s":1},{"t":299.3,"v":3.21,"s":1},{"t":299.6,"v":3.16,"s":1},{"t":299.8,"v":3.04,"s":1},{"t":300.1,"v":3.10,"s":1},{"t":300.4,"v":2.99,"s":1},{"t":300.7,"v":2.93,"s":1},{"t":300.9,"v":3.04,"s":1},{"t":301.2,"v":2.99,"s":1},{"t":301.5,"v":2.93,"s":1},{"t":301.8,"v":3.10,"s":1},{"t":302.0,"v":3.04,"s":1},{"t":302.3,"v":2.88,"s":1},{"t":302.5,"v":2.59,"s":1},{"t":302.7,"v":2.99,"s":1},{"t":303.0,"v":3.33,"s":1},{"t":303.2,"v":3.44,"s":1},{"t":303.4,"v":3.21,"s":1},{"t":303.7,"v":3.04,"s":1},{"t":304.0,"v":3.33,"s":1},{"t":304.3,"v":3.27,"s":1},{"t":304.5,"v":3.44,"s":1},{"t":304.8,"v":3.61,"s":1},{"t":305.1,"v":3.50,"s":1},{"t":305.4,"v":3.67,"s":1},{"t":305.7,"v":3.55,"s":1},{"t":305.9,"v":3.33,"s":1},{"t":306.2,"v":3.21,"s":1},{"t":306.5,"v":3.16,"s":1},{"t":306.8,"v":3.33,"s":1},{"t":307.0,"v":2.99,"s":1},{"t":307.2,"v":2.82,"s":1},{"t":307.4,"v":3.21,"s":1},{"t":307.7,"v":3.38,"s":1},{"t":308.0,"v":3.50,"s":1},{"t":308.3,"v":3.67,"s":1},{"t":308.5,"v":3.72,"s":1},{"t":308.8,"v":3.55,"s":1},{"t":309.1,"v":3.44,"s":1},{"t":309.4,"v":3.50,"s":1},{"t":309.6,"v":3.55,"s":1},{"t":309.9,"v":3.44,"s":1},{"t":310.4,"v":3.55,"s":1},{"t":310.6,"v":3.44,"s":1},{"t":310.9,"v":3.21,"s":1},{"t":311.1,"v":2.99,"s":1},{"t":311.3,"v":2.54,"s":1},{"t":311.5,"v":2.71,"s":1},{"t":311.8,"v":3.04,"s":1},{"t":312.0,"v":2.88,"s":1},{"t":312.3,"v":2.54,"s":1},{"t":312.6,"v":2.42,"s":1},{"t":312.9,"v":2.76,"s":1},{"t":313.1,"v":2.93,"s":1},{"t":313.4,"v":2.99,"s":1},{"t":313.7,"v":3.10,"s":1},{"t":314.0,"v":2.99,"s":1},{"t":314.2,"v":3.04,"s":1},{"t":314.5,"v":3.38,"s":1},{"t":314.8,"v":3.16,"s":1},{"t":315.1,"v":2.88,"s":1},{"t":315.4,"v":2.99,"s":1},{"t":315.6,"v":3.10,"s":1},{"t":315.9,"v":3.04,"s":1},{"t":316.2,"v":3.21,"s":1},{"t":316.5,"v":2.76,"s":1},{"t":316.7,"v":2.93,"s":1},{"t":317.0,"v":2.99,"s":1},{"t":317.3,"v":3.10,"s":1},{"t":317.6,"v":3.04,"s":1},{"t":317.8,"v":2.82,"s":1},{"t":318.1,"v":2.71,"s":1},{"t":318.3,"v":2.31,"s":1},{"t":318.5,"v":2.08,"s":1},{"t":318.7,"v":2.54,"s":1},{"t":319.0,"v":2.88,"s":1},{"t":319.2,"v":3.16,"s":1},{"t":319.5,"v":2.99,"s":1},{"t":319.8,"v":3.16,"s":1},{"t":320.1,"v":3.33,"s":1},{"t":320.3,"v":3.27,"s":1},{"t":320.6,"v":3.21,"s":1},{"t":320.9,"v":2.76,"s":1},{"t":321.1,"v":2.65,"s":1},{"t":321.2,"v":2.88,"s":1},{"t":321.4,"v":3.21,"s":1},{"t":321.7,"v":3.33,"s":1},{"t":322.0,"v":3.55,"s":1},{"t":322.3,"v":3.67,"s":1},{"t":322.6,"v":3.44,"s":1},{"t":322.8,"v":3.38,"s":1},{"t":323.1,"v":3.21,"s":1},{"t":323.4,"v":3.10,"s":1},{"t":323.7,"v":3.16,"s":1},{"t":323.9,"v":3.04,"s":1},{"t":324.2,"v":2.93,"s":1},{"t":324.5,"v":2.88,"s":1},{"t":324.8,"v":2.71,"s":1},{"t":325.1,"v":2.59,"s":1},{"t":325.3,"v":2.48,"s":1},{"t":325.6,"v":2.42,"s":1},{"t":325.9,"v":2.54,"s":1},{"t":326.2,"v":2.42,"s":1},{"t":326.4,"v":2.59,"s":1},{"t":326.7,"v":2.48,"s":1},{"t":327.0,"v":2.20,"s":1},{"t":327.2,"v":2.31,"s":1},{"t":327.4,"v":2.76,"s":1},{"t":327.7,"v":3.10,"s":1},{"t":327.9,"v":3.27,"s":1},{"t":328.2,"v":3.21,"s":1},{"t":328.5,"v":3.10,"s":1},{"t":328.8,"v":3.04,"s":1},{"t":329.0,"v":2.93,"s":1},{"t":329.3,"v":2.82,"s":1},{"t":329.6,"v":2.76,"s":1},{"t":329.9,"v":2.88,"s":1},{"t":330.1,"v":2.99,"s":1},{"t":330.4,"v":3.16,"s":1},{"t":330.7,"v":3.44,"s":1},{"t":330.9,"v":3.89,"s":1},{"t":331.0,"v":3.21,"s":1},{"t":331.3,"v":3.16,"s":1},{"t":331.6,"v":3.10,"s":1},{"t":331.9,"v":3.27,"s":1},{"t":332.1,"v":3.04,"s":1},{"t":332.4,"v":2.37,"s":1},{"t":332.5,"v":3.16,"s":1},{"t":332.8,"v":3.27,"s":1},{"t":333.1,"v":3.44,"s":1},{"t":333.4,"v":3.55,"s":1},{"t":333.6,"v":3.44,"s":1},{"t":333.9,"v":3.50,"s":1},{"t":334.2,"v":3.55,"s":1},{"t":334.5,"v":3.72,"s":1},{"t":334.8,"v":3.67,"s":1},{"t":335.0,"v":3.50,"s":1},{"t":335.3,"v":3.44,"s":1},{"t":335.6,"v":3.50,"s":1},{"t":335.9,"v":3.55,"s":1},{"t":336.1,"v":3.67,"s":1},{"t":336.4,"v":3.44,"s":1},{"t":336.7,"v":3.33,"s":1},{"t":337.0,"v":3.55,"s":1},{"t":337.2,"v":3.95,"s":1},{"t":337.5,"v":3.44,"s":1},{"t":337.8,"v":3.27,"s":1},{"t":338.1,"v":3.10,"s":1},{"t":338.2,"v":2.88,"s":1},{"t":338.5,"v":3.10,"s":1},{"t":338.7,"v":2.93,"s":1},{"t":339.0,"v":2.71,"s":1},{"t":339.3,"v":2.65,"s":1},{"t":339.6,"v":2.88,"s":1},{"t":339.9,"v":2.71,"s":1},{"t":340.1,"v":2.54,"s":1},{"t":340.3,"v":2.48,"s":1},{"t":340.6,"v":2.88,"s":1},{"t":340.9,"v":3.10,"s":1},{"t":341.1,"v":3.33,"s":1},{"t":341.4,"v":3.44,"s":1},{"t":341.6,"v":3.61,"s":1},{"t":341.8,"v":3.44,"s":1},{"t":342.0,"v":3.33,"s":1},{"t":342.2,"v":3.10,"s":1},{"t":342.5,"v":2.88,"s":1},{"t":342.8,"v":2.42,"s":1},{"t":343.0,"v":2.71,"s":1},{"t":343.2,"v":3.16,"s":1},{"t":343.5,"v":3.33,"s":1},{"t":343.8,"v":3.21,"s":1},{"t":344.1,"v":3.44,"s":1},{"t":344.5,"v":3.50,"s":1},{"t":345.0,"v":3.46,"s":1},
{"t":346.4,"v":3.55,"s":2},{"t":346.7,"v":3.38,"s":2},{"t":347.0,"v":3.27,"s":2},{"t":347.2,"v":3.04,"s":2},{"t":347.4,"v":3.21,"s":2},{"t":347.7,"v":3.04,"s":2},{"t":347.9,"v":2.59,"s":2},{"t":348.1,"v":3.04,"s":2},{"t":348.3,"v":3.44,"s":2},{"t":348.6,"v":3.16,"s":2},{"t":348.9,"v":3.04,"s":2},{"t":349.2,"v":3.10,"s":2},{"t":349.4,"v":3.16,"s":2},{"t":349.7,"v":3.10,"s":2},{"t":350.0,"v":3.21,"s":2},{"t":350.3,"v":3.16,"s":2},{"t":350.5,"v":3.27,"s":2},{"t":350.8,"v":3.44,"s":2},{"t":351.1,"v":3.33,"s":2},{"t":351.4,"v":3.44,"s":2},{"t":351.5,"v":3.04,"s":2},{"t":351.7,"v":2.54,"s":2},{"t":351.9,"v":2.82,"s":2},{"t":352.2,"v":2.71,"s":2},{"t":352.4,"v":2.82,"s":2},{"t":352.6,"v":2.71,"s":2},{"t":352.8,"v":2.42,"s":2},{"t":353.0,"v":2.25,"s":2},{"t":353.3,"v":2.08,"s":2},{"t":353.6,"v":2.20,"s":2},{"t":356.1,"v":3.67,"s":2}
],
"arrows":[{"t":247.1,"v":8.51,"t2":243.4,"v2":8.17},{"t":258.6,"v":8.58,"t2":263.4,"v2":8.27}],
"heads":[{"t":243.2,"v":8.15,"a":227},{"t":263.7,"v":8.25,"a":122}],
"notes":[{"t":252.4,"v":9.07,"label":"SOLAR"},{"t":252.4,"v":8.78,"label":"PARTICLES"}],
"cnt":[{"v":7},{"v":9}]
},
"vconcat":[
{
"width":842,"height":119,
"layer":[
{
"encoding":{
"x":{"field":"t","type":"quantitative","scale":{"domain":[229,369],"nice":false,"zero":false},"axis":{"values":[229,239,249,259,269,279,289,299,309,319,329,339,349,359,369],"format":"d","labelExpr":"(datum.value-229)%20==0 ? datum.label : ''","title":null,"tickSize":5,"labelPadding":1}},
"y":{"field":"v","type":"quantitative","scale":{"domain":[7,9],"nice":false,"zero":false},"axis":{"values":[7,8,9],"format":"d","title":["LOG","³He⁺⁺ FLUX"],"titleAngle":0,"titleAlign":"center","titleBaseline":"top","titleX":-66,"titleY":36,"titleLineHeight":19,"tickSize":5,"labelPadding":3}}
},
"layer":[
{"data":{"name":"he3"},"mark":{"type":"line","color":"black","strokeWidth":1.3},"encoding":{"detail":{"field":"s","type":"nominal"}}},
{"data":{"name":"arrows"},"mark":{"type":"rule","color":"black","strokeWidth":1.8},"encoding":{"x2":{"field":"t2"},"y2":{"field":"v2"}}},
{"data":{"name":"heads"},"mark":{"type":"point","shape":"triangle","filled":true,"color":"black","size":50,"opacity":1},"encoding":{"angle":{"field":"a","type":"quantitative","scale":null}}},
{"data":{"name":"notes"},"mark":{"type":"text","fontSize":15,"fontWeight":"bold","font":"Liberation Sans","color":"black","baseline":"middle","align":"center"},"encoding":{"text":{"field":"label"}}}
]
},
{
"data":{"name":"cnt"},"mark":{"type":"point","opacity":0},
"encoding":{"y":{"field":"v","type":"quantitative","scale":{"domain":[7,9],"nice":false,"zero":false},"axis":{"orient":"right","values":[7,8,9],"labelExpr":"datum.value==9 ? '500' : datum.value==8 ? '50' : '5'","offset":13,"tickSize":4,"labelPadding":3,"title":["C","O","U","N","T","S"],"titleAngle":0,"titleAlign":"center","titleBaseline":"top","titleX":46,"titleY":18,"titleLineHeight":14.6,"titleFontSize":14}}}
}
],
"resolve":{"axis":{"y":"independent"}}
},
{
"width":842,"height":123,
"data":{"name":"he4"},
"mark":{"type":"line","color":"black","strokeWidth":1.3},
"encoding":{
"x":{"field":"t","type":"quantitative","scale":{"domain":[229,369],"nice":false,"zero":false},"axis":{"values":[229,239,249,259,269,279,289,299,309,319,329,339,349,359,369],"format":"d","labelExpr":"(datum.value-229)%20==0 ? datum.label : ''","title":null,"tickSize":5,"labelPadding":1}},
"y":{"field":"v","type":"quantitative","scale":{"domain":[9,13],"nice":false,"zero":false},"axis":{"values":[9,11,13],"format":"d","title":["LOG","⁴He⁺⁺ FLUX"],"titleAngle":0,"titleAlign":"center","titleBaseline":"top","titleX":-68,"titleY":43,"titleLineHeight":18,"tickSize":5,"labelPadding":3}},
"detail":{"field":"s","type":"nominal"}
}
},
{
"width":842,"height":118,
"data":{"name":"ratio"},
"mark":{"type":"line","color":"black","strokeWidth":1.3},
"encoding":{
"x":{"field":"t","type":"quantitative","scale":{"domain":[229,369],"nice":false,"zero":false},"axis":{"values":[229,239,249,259,269,279,289,299,309,319,329,339,349,359,369],"format":"d","labelExpr":"(datum.value-229)%20==0 ? datum.label : ''","title":"TIME","titleX":386,"titleY":37,"titleAlign":"center","titleBaseline":"top","titleFontSize":15,"tickSize":5,"labelPadding":1}},
"y":{"field":"v","type":"quantitative","scale":{"domain":[1,5],"nice":false,"zero":false},"axis":{"values":[1,3,5],"format":"d","title":["LOG","RATIO"],"titleAngle":0,"titleAlign":"center","titleBaseline":"top","titleX":-59,"titleY":37,"titleLineHeight":15,"tickSize":5,"labelPadding":3}},
"detail":{"field":"s","type":"nominal"}
}
}
]
}
